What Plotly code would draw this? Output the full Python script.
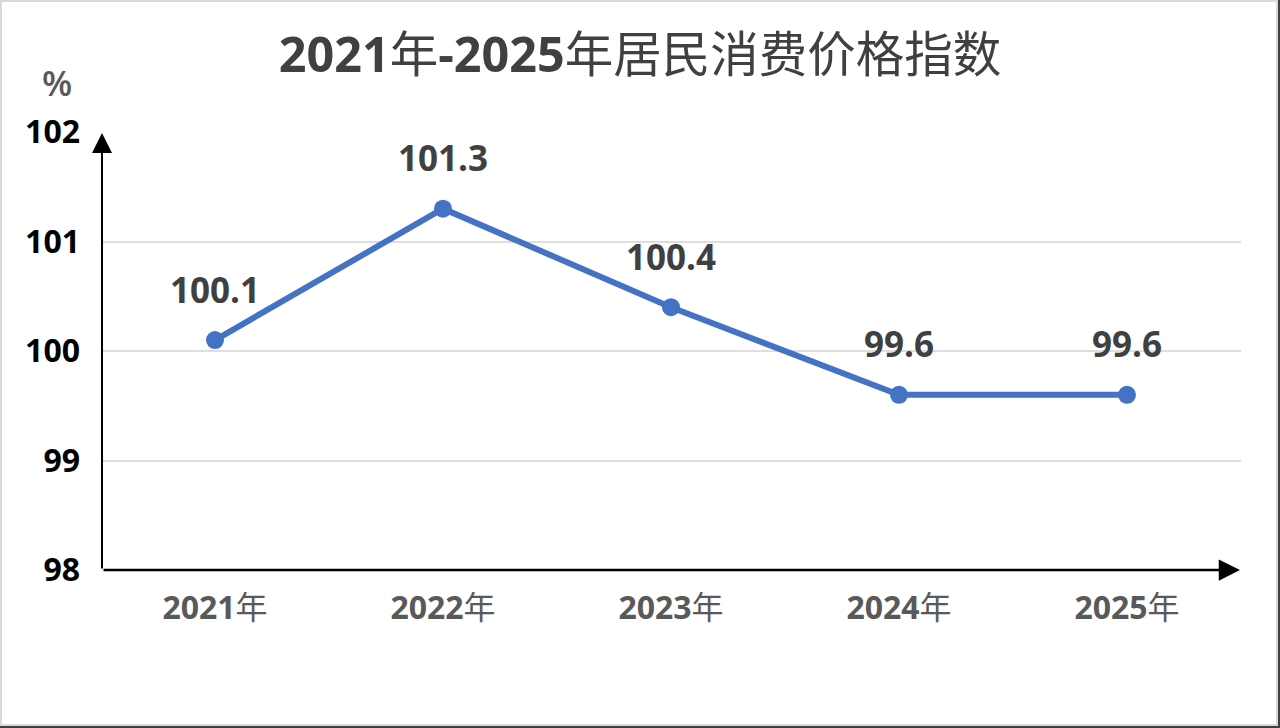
import plotly.graph_objects as go

# dados
anos = ["2021年", "2022年", "2023年", "2024年", "2025年"]
anos_texto = ["<b>2021</b>年", "<b>2022</b>年", "<b>2023</b>年", "<b>2024</b>年", "<b>2025</b>年"]
cpi = [100.1, 101.3, 100.4, 99.6, 99.6]
y_ticks = [98, 99, 100, 101, 102]

W, H = 1280, 728
ML, MR, MT, MB = 101, 39, 132, 158
FONTE = "Open Sans, Noto Sans CJK SC, sans-serif"


def px_x(p):
    return (p - ML) / (W - ML - MR)


def px_y(q):
    return (H - MB - q) / (H - MT - MB)


fig = go.Figure()
fig.add_trace(go.Scatter(
    x=anos, y=cpi, mode="lines+markers",
    line=dict(color="#4472C4", width=6),
    marker=dict(color="#4472C4", size=18),
    hoverinfo="skip", showlegend=False,
))

# rótulos dos valores
anotacoes = []
for a, v in zip(anos, cpi):
    anotacoes.append(dict(
        x=a, y=v, text=f"{v:.1f}", showarrow=False, yshift=51,
        font=dict(family=FONTE, size=35, color="#404040", weight="bold"),
    ))

# setas dos eixos
anotacoes.append(dict(
    xref="paper", yref="paper", x=px_x(102), y=px_y(133), text="",
    showarrow=True, ax=0, ay=437, arrowhead=2, arrowwidth=2, arrowsize=2,
    arrowcolor="#000000",
))
anotacoes.append(dict(
    xref="paper", yref="paper", x=px_x(1240), y=px_y(570), text="",
    showarrow=True, ax=-1138, ay=0, arrowhead=2, arrowwidth=2.5, arrowsize=1.7,
    arrowcolor="#000000",
))
anotacoes.append(dict(
    xref="paper", yref="paper", x=px_x(57), y=px_y(83), text="%",
    xanchor="center", yanchor="middle",
    showarrow=False, font=dict(family=FONTE, size=35, color="#595959", weight=600),
))

# moldura
formas = [
    dict(type="rect", xref="paper", yref="paper",
         x0=px_x(1), x1=px_x(1277), y0=px_y(725), y1=px_y(1),
         line=dict(color="#d9d9d9", width=2), layer="below"),
    dict(type="line", xref="paper", yref="paper",
         x0=px_x(1279), x1=px_x(1279), y0=px_y(728), y1=px_y(0),
         line=dict(color="#404040", width=2)),
    dict(type="line", xref="paper", yref="paper",
         x0=px_x(0), x1=px_x(1280), y0=px_y(727), y1=px_y(727),
         line=dict(color="#404040", width=2)),
]

fig.update_layout(
    width=W, height=H,
    margin=dict(l=ML, r=MR, t=MT, b=MB, autoexpand=False),
    paper_bgcolor="white", plot_bgcolor="white",
    title=dict(
        text="<b>2021</b>年<b>-2025</b>年居民消费价格指数",
        x=0.5, xanchor="center", y=1 - 55 / H, yanchor="middle", yref="container",
        font=dict(family=FONTE, size=48.5, color="#404040"),
    ),
    xaxis=dict(
        type="category", range=[-0.5, 4.5],
        tickvals=anos, ticktext=anos_texto,
        tickfont=dict(family=FONTE, size=32, color="#595959"),
        showgrid=False, showline=False, zeroline=False, ticks="",
        ticklabelstandoff=16, automargin=False,
    ),
    yaxis=dict(
        range=[98, 102], tickvals=y_ticks,
        tickfont=dict(family=FONTE, size=32, color="#000000", weight="bold"),
        showgrid=True, gridcolor="#dedede", gridwidth=2,
        showline=False, zeroline=False, ticks="",
        ticklabelstandoff=20, automargin=False,
    ),
    annotations=anotacoes,
    shapes=formas,
)

fig.write_html("out.html", config={"displayModeBar": False},
               post_script="document.body.style.margin='0';")
